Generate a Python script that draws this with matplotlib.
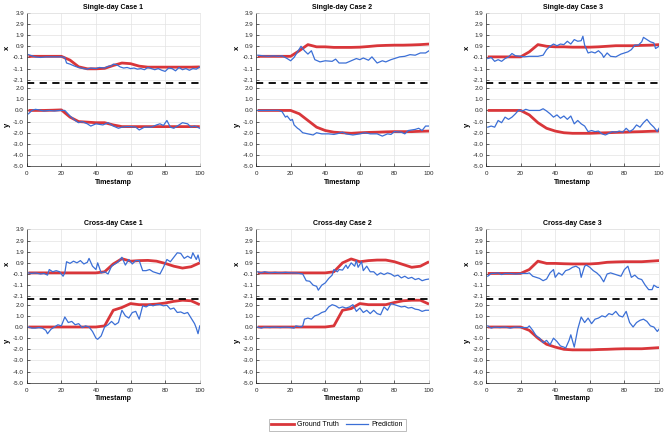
import numpy as np
import matplotlib
matplotlib.use("Agg")
import matplotlib.pyplot as plt
from matplotlib.lines import Line2D

plt.rcParams['font.family'] = ['Liberation Sans', 'DejaVu Sans']

# ---------------------------------------------------------------- data
titles = ['Single-day Case 1', 'Single-day Case 2', 'Single-day Case 3',
          'Cross-day Case 1', 'Cross-day Case 2', 'Cross-day Case 3']

t_gt = [1, 5, 10, 15, 20, 25, 30, 35, 40, 45, 50, 55, 60, 65, 70, 75, 80, 85, 90, 95, 100]

# ground truth (same time grid t_gt)
sd1_x_gt = [0.0, 0.0, 0.0, 0.0, 0.0, -0.34, -0.94, -1.12, -1.12, -1.08, -0.82, -0.6, -0.66, -0.88, -0.97, -0.97, -0.97, -0.97, -0.97, -0.97, -0.95]
sd1_y_gt = [0.0, 0.0, 0.0, 0.02, 0.05, -0.6, -1.0, -1.05, -1.1, -1.1, -1.3, -1.45, -1.45, -1.45, -1.45, -1.45, -1.45, -1.45, -1.45, -1.45, -1.45]
sd2_x_gt = [0.0, 0.0, 0.0, 0.0, 0.0, 0.5, 1.05, 0.85, 0.85, 0.8, 0.8, 0.8, 0.82, 0.88, 0.95, 0.98, 1.0, 1.0, 1.02, 1.05, 1.1]
sd2_y_gt = [0.0, 0.0, 0.0, 0.0, 0.0, -0.3, -0.9, -1.5, -1.8, -1.95, -2.0, -2.05, -2.0, -1.97, -1.95, -1.92, -1.9, -1.9, -1.9, -1.87, -1.85]
sd3_x_gt = [-0.05, -0.05, -0.05, -0.05, -0.05, 0.4, 1.05, 0.9, 0.85, 0.85, 0.82, 0.82, 0.82, 0.85, 0.9, 0.95, 0.95, 0.95, 0.98, 1.0, 1.05]
sd3_y_gt = [0.0, 0.0, 0.0, 0.0, 0.0, -0.4, -1.1, -1.6, -1.85, -2.0, -2.05, -2.05, -2.05, -2.02, -2.0, -1.97, -1.95, -1.92, -1.9, -1.87, -1.85]
cd1_x_gt = [0.0, 0.0, 0.0, 0.0, 0.0, 0.0, 0.0, 0.0, 0.0, 0.1, 0.8, 1.27, 1.05, 1.1, 1.12, 1.05, 0.85, 0.6, 0.43, 0.55, 0.9]
cd1_y_gt = [0.0, 0.0, 0.0, 0.0, 0.0, 0.0, 0.0, 0.0, 0.0, 0.1, 1.5, 1.75, 2.1, 2.0, 2.0, 2.05, 2.15, 2.3, 2.4, 2.35, 2.0]
cd2_x_gt = [0.0, 0.0, 0.0, 0.0, 0.0, 0.0, 0.0, 0.0, 0.0, 0.1, 0.9, 1.25, 1.0, 1.1, 1.15, 1.15, 1.0, 0.75, 0.5, 0.6, 1.0]
cd2_y_gt = [0.0, 0.0, 0.0, 0.0, 0.0, 0.0, 0.0, 0.0, 0.0, 0.1, 1.5, 1.65, 2.1, 2.0, 2.0, 2.0, 2.2, 2.35, 2.4, 2.4, 2.05]
cd3_x_gt = [-0.05, -0.05, -0.05, -0.05, -0.05, 0.3, 1.05, 0.85, 0.85, 0.82, 0.8, 0.8, 0.8, 0.85, 0.95, 0.98, 1.0, 1.0, 1.0, 1.05, 1.1]
cd3_y_gt = [0.0, 0.0, 0.0, 0.0, 0.0, -0.3, -1.0, -1.55, -1.8, -2.0, -2.05, -2.05, -2.05, -2.02, -2.0, -1.97, -1.95, -1.95, -1.95, -1.9, -1.85]

# predictions as (timestamp, value)
sd1_x_pr = [(1, 0.15), (3, 0.05), (5, -0.05), (8, -0.1), (11, -0.05), (14, -0.05), (17, -0.05), (20, -0.05),
            (22, -0.1), (23, -0.6), (25, -0.7), (28, -0.9), (30, -1.0), (33, -1.1), (35, -1.15), (37, -1.05),
            (40, -1.1), (42, -1.0), (45, -1.05), (47, -0.9), (49, -0.85), (50, -0.7), (52, -0.75), (54, -0.95),
            (56, -1.05), (58, -1.0), (60, -1.1), (62, -1.05), (64, -1.15), (66, -1.1), (68, -1.2), (70, -1.0),
            (72, -1.1), (74, -1.2), (76, -1.1), (78, -1.25), (80, -1.35), (82, -1.05), (84, -1.1), (86, -1.3),
            (88, -1.0), (90, -1.2), (92, -1.1), (94, -1.25), (96, -1.1), (98, -1.15), (100, -0.95)]
sd1_y_pr = [(1, -0.3), (3, 0.0), (5, 0.1), (7, 0.05), (10, -0.05), (13, 0.0), (16, -0.05), (19, 0.0), (22, 0.0),
            (25, -0.5), (28, -0.9), (30, -1.1), (32, -1.0), (35, -1.2), (37, -1.4), (40, -1.2), (42, -1.25),
            (44, -1.3), (47, -1.1), (50, -1.4), (53, -1.6), (55, -1.5), (58, -1.45), (60, -1.45), (63, -1.5),
            (65, -1.75), (68, -1.5), (72, -1.5), (75, -1.3), (77, -1.2), (79, -1.35), (81, -0.9), (83, -1.5),
            (85, -1.6), (88, -1.3), (90, -1.1), (93, -1.2), (95, -1.5), (97, -1.4), (100, -1.6)]
sd2_x_pr = [(1, 0.1), (4, 0.05), (7, 0.0), (10, 0.05), (13, 0.0), (15, 0.05), (18, -0.2), (20, -0.4), (22, -0.1),
            (24, 0.4), (26, 0.9), (28, 0.5), (30, 0.2), (32, 0.5), (34, -0.3), (37, -0.5), (40, -0.4), (44, -0.45),
            (46, -0.25), (48, -0.6), (52, -0.6), (55, -0.4), (58, -0.2), (60, -0.3), (62, -0.15), (65, -0.35),
            (67, -0.05), (70, -0.6), (73, -0.4), (75, -0.5), (78, -0.3), (80, -0.2), (83, -0.05), (86, 0.0),
            (89, 0.15), (92, 0.1), (95, 0.3), (98, 0.3), (100, 0.5)]
sd2_y_pr = [(1, 0.0), (5, 0.0), (9, 0.0), (13, 0.0), (15, -0.1), (17, -0.6), (18, -0.5), (20, -0.9), (21, -0.8),
            (22, -1.3), (24, -1.6), (25, -1.7), (27, -2.0), (30, -2.1), (33, -2.2), (35, -2.0), (38, -2.1),
            (42, -2.1), (45, -2.15), (48, -2.05), (50, -1.95), (52, -2.1), (56, -2.2), (60, -2.1), (63, -2.0),
            (66, -2.1), (70, -2.1), (73, -2.3), (76, -2.1), (78, -2.15), (80, -1.9), (84, -1.95), (86, -2.1),
            (88, -1.8), (92, -1.7), (94, -1.6), (96, -1.8), (98, -1.4), (100, -1.4)]
sd3_x_pr = [(1, -0.2), (3, -0.1), (5, -0.45), (7, -0.3), (9, -0.45), (11, -0.2), (13, -0.05), (15, 0.25),
            (17, 0.05), (20, 0.0), (22, -0.05), (25, 0.0), (30, 0.0), (33, 0.1), (35, 0.6), (37, 0.9), (39, 1.1),
            (41, 0.95), (43, 1.1), (45, 1.05), (47, 1.35), (49, 1.1), (51, 1.5), (53, 1.35), (55, 1.4), (56, 1.8),
            (57, 1.0), (59, 0.3), (61, 0.4), (63, 0.3), (65, 0.5), (67, 0.2), (68, -0.1), (70, 0.3), (72, 0.0),
            (75, -0.05), (78, 0.2), (80, 0.3), (82, 0.4), (84, 0.6), (86, 1.0), (88, 1.0), (90, 1.3), (91, 1.7),
            (93, 1.5), (95, 1.3), (97, 1.2), (98, 0.7), (100, 0.9)]
sd3_y_pr = [(1, -1.5), (3, -1.4), (5, -1.5), (7, -0.9), (9, -1.1), (11, -0.6), (13, -0.8), (15, -0.6),
            (17, -0.3), (19, 0.05), (21, -0.05), (23, 0.1), (25, 0.0), (28, 0.0), (31, 0.0), (33, 0.15),
            (35, -0.05), (37, -0.3), (39, -0.6), (41, -0.4), (43, -0.7), (45, -0.5), (47, -0.8), (49, -0.5),
            (51, -1.2), (53, -0.9), (55, -1.2), (57, -1.4), (59, -1.9), (61, -1.8), (63, -1.9), (65, -1.85),
            (67, -2.1), (69, -2.2), (71, -2.05), (73, -1.9), (75, -1.95), (77, -1.85), (79, -1.95), (81, -1.6),
            (83, -1.9), (85, -1.7), (87, -1.3), (89, -1.5), (91, -1.1), (93, -0.8), (95, -1.2), (97, -1.5),
            (99, -1.9), (100, -1.6)]
cd1_x_pr = [(1, 0.0), (3, -0.05), (5, 0.0), (8, -0.1), (10, -0.05), (12, -0.2), (13, 0.3), (15, 0.1), (17, 0.2),
            (19, 0.1), (21, -0.3), (22, 0.0), (23, 1.0), (25, 0.85), (27, 1.05), (29, 0.9), (31, 1.1), (33, 0.8),
            (35, 0.95), (36, 1.3), (38, 0.6), (40, 0.3), (41, 0.9), (43, 0.0), (45, 0.1), (47, -0.1), (49, 0.6),
            (51, 0.8), (53, 1.0), (55, 1.4), (57, 0.7), (59, 1.2), (61, 0.8), (63, 1.1), (65, 1.1), (67, 0.2),
            (69, 0.2), (71, 0.3), (73, 0.1), (75, 0.0), (77, -0.1), (79, 0.5), (81, 1.2), (83, 1.0), (85, 1.4),
            (87, 1.8), (89, 1.75), (91, 1.3), (93, 1.5), (95, 1.3), (96, 1.8), (98, 1.2), (99, 1.6), (100, 1.0)]
cd1_y_pr = [(1, 0.0), (3, -0.1), (5, -0.1), (7, -0.05), (9, -0.1), (11, -0.3), (12, -0.6), (14, -0.2), (16, 0.0),
            (18, 0.2), (20, 0.1), (22, 0.9), (24, 0.4), (26, 0.5), (28, 0.2), (30, 0.3), (32, -0.05), (34, 0.1),
            (36, 0.0), (38, -0.4), (40, -1.0), (41, -1.1), (43, -0.8), (45, 0.0), (47, 0.2), (49, 0.5), (51, 0.2),
            (53, 0.4), (55, 1.5), (57, 1.0), (59, 0.8), (61, 1.3), (63, 1.4), (65, 0.7), (67, 1.9), (69, 1.8),
            (71, 2.0), (73, 1.9), (75, 2.0), (77, 2.0), (79, 1.9), (81, 1.95), (83, 1.6), (85, 1.7), (87, 1.3),
            (89, 1.35), (91, 1.2), (93, 1.3), (95, 0.8), (97, 0.3), (98, -0.1), (99, -0.6), (100, 0.1)]
cd2_x_pr = [(1, 0.1), (3, 0.0), (5, 0.1), (8, 0.0), (11, 0.05), (14, 0.0), (17, 0.05), (20, 0.0), (23, 0.0),
            (27, -0.1), (29, -0.7), (31, -0.75), (33, -1.1), (35, -1.2), (36, -1.55), (38, -1.1), (40, -0.9),
            (42, -0.5), (44, -0.2), (45, 0.3), (47, 0.1), (48, 0.3), (50, 0.25), (52, 0.7), (53, 0.4), (55, 0.9),
            (57, 0.6), (58, 1.1), (59, 0.5), (61, 1.0), (62, 0.2), (64, 0.6), (66, 0.1), (68, 0.1), (70, -0.2),
            (72, 0.0), (74, -0.15), (76, 0.0), (78, -0.1), (80, -0.3), (82, -0.2), (84, -0.45), (86, -0.3),
            (88, -0.5), (90, -0.4), (92, -0.6), (94, -0.5), (96, -0.7), (98, -0.6), (100, -0.55)]
cd2_y_pr = [(1, 0.0), (3, -0.1), (5, 0.0), (8, -0.05), (11, 0.0), (14, -0.05), (17, 0.0), (20, -0.05),
            (22, -0.1), (23, 0.1), (26, 0.0), (27, 0.1), (28, 0.7), (30, 0.8), (32, 0.7), (34, 1.0), (36, 1.1),
            (38, 1.3), (40, 1.4), (42, 1.8), (44, 2.0), (46, 1.9), (48, 1.7), (50, 1.8), (52, 1.7), (54, 1.8),
            (56, 2.0), (58, 1.4), (60, 1.7), (62, 1.3), (64, 1.5), (66, 1.2), (68, 1.5), (70, 1.2), (72, 1.1),
            (74, 1.8), (76, 1.5), (78, 2.1), (80, 2.0), (82, 1.9), (84, 1.8), (86, 1.85), (88, 1.7), (90, 1.75),
            (92, 1.6), (94, 1.55), (96, 1.4), (98, 1.5), (100, 1.5)]
cd3_x_pr = [(1, -0.3), (3, -0.05), (5, -0.05), (7, 0.0), (9, -0.15), (11, -0.05), (14, -0.05), (17, -0.1),
            (20, -0.05), (24, -0.05), (25, 0.0), (27, -0.3), (29, -0.4), (31, -0.5), (33, -0.7), (35, -0.55),
            (37, 0.0), (39, 0.3), (40, -0.4), (42, 0.0), (44, -0.2), (46, 0.2), (48, 0.3), (50, 0.5), (52, 0.6),
            (54, 0.4), (55, -0.4), (57, 0.6), (58, 0.7), (60, 0.5), (62, 0.2), (64, 0.0), (66, -0.3), (68, -0.8),
            (70, -0.1), (72, 0.0), (74, -0.1), (76, -0.2), (78, -0.3), (80, 0.3), (82, 0.6), (84, -0.4),
            (86, -0.2), (88, -0.5), (90, -0.6), (92, -1.1), (94, -1.5), (96, -1.5), (97, -1.1), (99, -1.3),
            (100, -1.3)]
cd3_y_pr = [(1, 0.1), (3, -0.1), (5, 0.0), (8, -0.05), (11, 0.0), (14, -0.1), (17, 0.0), (20, -0.05),
            (24, -0.05), (25, 0.1), (27, -0.3), (29, -0.8), (31, -1.0), (33, -1.4), (35, -1.2), (37, -1.6),
            (39, -1.0), (41, -1.3), (43, -1.7), (45, -1.8), (46, -1.9), (48, -1.2), (49, -0.7), (51, -1.8),
            (53, -0.2), (55, 0.9), (57, 0.4), (59, 0.8), (61, 0.3), (63, 0.7), (65, 0.8), (67, 1.0), (69, 0.9),
            (71, 1.2), (73, 1.1), (75, 1.4), (77, 1.0), (79, 0.9), (81, 1.4), (83, 0.4), (85, 0.0), (87, 0.4),
            (89, 0.6), (91, 0.7), (93, 0.5), (95, 0.1), (97, 0.0), (99, -0.4), (100, -0.2)]

x_gt = [sd1_x_gt, sd2_x_gt, sd3_x_gt, cd1_x_gt, cd2_x_gt, cd3_x_gt]
y_gt = [sd1_y_gt, sd2_y_gt, sd3_y_gt, cd1_y_gt, cd2_y_gt, cd3_y_gt]
x_pr = [sd1_x_pr, sd2_x_pr, sd3_x_pr, cd1_x_pr, cd2_x_pr, cd3_x_pr]
y_pr = [sd1_y_pr, sd2_y_pr, sd3_y_pr, cd1_y_pr, cd2_y_pr, cd3_y_pr]

x_ticks = [3.9, 2.9, 1.9, 0.9, -0.1, -1.1, -2.1]
y_ticks = [2.0, 1.0, 0.0, -1.0, -2.0, -3.0, -4.0, -5.0]
OFF = 4.85      # y part is drawn shifted down by this
SPLIT = -2.37   # dashed separator

RED = '#d9363a'
BLUE = '#3b6fd6'

# ---------------------------------------------------------------- plot
fig = plt.figure(figsize=(6.69, 4.34), dpi=100)
lefts = [0.040, 0.3827, 0.7265]
bottoms = [0.617, 0.118]
w, h = 0.2586, 0.3535
span = 3.9 + 5.0 + OFF

for i in range(6):
    ax = fig.add_axes([lefts[i % 3], bottoms[i // 3], w, h])
    t = np.array(t_gt)
    ax.plot(t, x_gt[i], c=RED, lw=2.0, solid_capstyle='butt')
    ax.plot(t, np.array(y_gt[i]) - OFF, c=RED, lw=2.0, solid_capstyle='butt')
    px = np.array(x_pr[i])
    py = np.array(y_pr[i])
    ax.plot(px[:, 0], px[:, 1], c=BLUE, lw=0.9)
    ax.plot(py[:, 0], py[:, 1] - OFF, c=BLUE, lw=0.9)
    ax.axhline(SPLIT, c='k', ls=(0, (4, 3)), lw=1.3)

    ax.set_xlim(0, 100)
    ax.set_ylim(-5.0 - OFF, 3.9)
    ax.set_xticks(range(0, 101, 20))
    ticks = x_ticks + [v - OFF for v in y_ticks]
    labels = ['%.1f' % v for v in x_ticks] + ['%.1f' % v for v in y_ticks]
    ax.set_yticks(ticks)
    ax.set_yticklabels(labels)
    ax.tick_params(direction='in', length=2, width=0.5, labelsize=4.5, pad=2, colors='#262626')
    ax.tick_params(axis='x', pad=3.5)
    ax.grid(True, c='#e3e3e3', lw=0.5)
    ax.set_axisbelow(True)
    for s in ['top', 'right']:
        ax.spines[s].set_color('#e3e3e3')
        ax.spines[s].set_linewidth(0.5)
    for s in ['left', 'bottom']:
        ax.spines[s].set_color('#262626')
        ax.spines[s].set_linewidth(0.5)

    ax.set_title(titles[i], fontsize=5, fontweight='bold', pad=3)
    ax.set_xlabel('Timestamp', fontsize=5, fontweight='bold', labelpad=2)
    ax.text(-0.11, ((3.9 + SPLIT) / 2 + 5.0 + OFF) / span, 'x',
            transform=ax.transAxes, rotation=90, fontsize=5.5, fontweight='bold', ha='center', va='center')
    ax.text(-0.11, (SPLIT + 5.0 + OFF) / 2 / span, 'y',
            transform=ax.transAxes, rotation=90, fontsize=5.5, fontweight='bold', ha='center', va='center')

handles = [Line2D([], [], c=RED, lw=2.0), Line2D([], [], c=BLUE, lw=0.9)]
leg = fig.legend(handles, ['Ground Truth', 'Prediction'], loc='center', bbox_to_anchor=(0.504, 0.021),
                 ncol=2, fontsize=5, frameon=True, fancybox=False, edgecolor='#a0a0a0',
                 handlelength=3.2, columnspacing=1.0, handletextpad=0.5, borderpad=0.4)
leg.get_frame().set_linewidth(0.6)

fig.savefig('out.png', dpi=100)
